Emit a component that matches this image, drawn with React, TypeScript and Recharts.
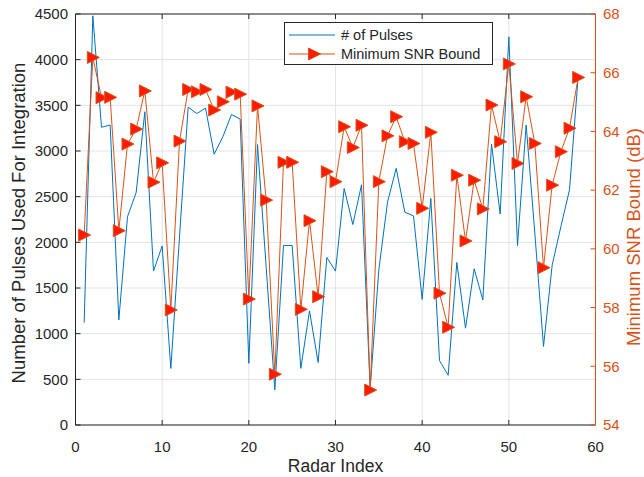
import { ComposedChart, Line, XAxis, YAxis, CartesianGrid } from 'recharts';

const radarIndex = [
  1, 2, 3, 4, 5, 6, 7, 8, 9, 10, 11, 12, 13, 14, 15, 16, 17, 18, 19, 20,
  21, 22, 23, 24, 25, 26, 27, 28, 29, 30, 31, 32, 33, 34, 35, 36, 37, 38, 39, 40,
  41, 42, 43, 44, 45, 46, 47, 48, 49, 50, 51, 52, 53, 54, 55, 56, 57, 58,
];

const numPulses = [
  1120, 4480, 3260, 3285, 1150, 2280, 2545, 3430, 1685, 1960,
  620, 2060, 3480, 3410, 3470, 2965, 3155, 3400, 3350, 675,
  3070, 1730, 385, 1965, 1965, 620, 1250, 685, 1835, 1685,
  2590, 2195, 2630, 400, 1700, 2440, 2810, 2330, 2290, 1375,
  2480, 705, 545, 1780, 1060, 1710, 1370, 3075, 2310, 4250,
  1965, 3285, 2100, 860, 1750, 2170, 2575, 3815,
];

const minSnr = [
  60.47, 66.52, 65.15, 65.16, 60.62, 63.57, 64.08, 65.38, 62.27, 62.93,
  57.92, 63.67, 65.43, 65.35, 65.43, 64.73, 65.01, 65.34, 65.27, 58.29,
  64.87, 61.66, 55.73, 62.95, 62.95, 57.94, 60.96, 58.37, 62.63, 62.29,
  64.16, 63.45, 64.21, 55.19, 62.29, 63.85, 64.5, 63.65, 63.59, 61.38,
  63.97, 58.49, 57.33, 62.51, 60.27, 62.34, 61.36, 64.9, 63.65, 66.3,
  62.91, 65.18, 63.59, 59.36, 62.17, 63.31, 64.11, 65.84,
];

const xTicks = [0, 10, 20, 30, 40, 50, 60];
const leftTicks = [0, 500, 1000, 1500, 2000, 2500, 3000, 3500, 4000, 4500];
const rightTicks = [54, 56, 58, 60, 62, 64, 66, 68];

const data = radarIndex.map((r, i) => ({ idx: r, pulses: numPulses[i], snr: minSnr[i] }));

const FONT = '"Liberation Sans", Arial, Helvetica, sans-serif';
const BLUE = '#0072BD';
const ORANGE = '#D95319';
const RED = '#FF1A00';
const DARK = '#262626';

// right-pointing triangle marker, like matlab's '>'
const Tri = (props: any) => {
  const { cx, cy } = props;
  if (cx == null || cy == null) return null;
  return (
    <polygon
      points={`${cx - 5.5},${cy - 6} ${cx - 5.5},${cy + 6} ${cx + 6.5},${cy}`}
      fill={RED}
      stroke={ORANGE}
      strokeWidth={1}
    />
  );
};

export default function App() {
  return (
    <div style={{ position: 'absolute', left: 0, top: 0, width: 644, height: 477, background: '#fff', fontFamily: FONT }}>
      <ComposedChart width={644} height={477} data={data} margin={{ top: 13, right: 0, bottom: 0, left: 0 }}>
        <CartesianGrid xAxisId="b" yAxisId="left" stroke="#e3e3e3" />
        <XAxis
          xAxisId="b"
          dataKey="idx"
          type="number"
          domain={[0, 60]}
          ticks={xTicks}
          height={52}
          stroke={DARK}
          tickSize={-5}
          tick={(p: any) => (
            <text x={p.x} y={451.5} textAnchor="middle" fontSize={15} fill={DARK} fontFamily={FONT}>
              {p.payload.value}
            </text>
          )}
          label={() => (
            <text x={335.5} y={472} textAnchor="middle" fontSize={17.5} fill={DARK} fontFamily={FONT}>
              Radar Index
            </text>
          )}
        />
        <XAxis
          xAxisId="t"
          orientation="top"
          dataKey="idx"
          type="number"
          domain={[0, 60]}
          ticks={xTicks}
          height={1}
          stroke={DARK}
          tickSize={-5}
          tick={() => <g />}
        />
        <YAxis
          yAxisId="left"
          domain={[0, 4500]}
          ticks={leftTicks}
          width={75.5}
          stroke={DARK}
          tickSize={-5}
          tick={(p: any) => (
            <text x={68} y={p.y + 5.3} textAnchor="end" fontSize={15} fill={DARK} fontFamily={FONT}>
              {p.payload.value}
            </text>
          )}
          label={() => (
            <text
              transform="translate(24.5,223) rotate(-90)"
              textAnchor="middle"
              fontSize={18.5}
              fill={DARK}
              fontFamily={FONT}
            >
              Number of Pulses Used For Integration
            </text>
          )}
        />
        <YAxis
          yAxisId="right"
          orientation="right"
          domain={[54, 68]}
          ticks={rightTicks}
          width={48.5}
          stroke={ORANGE}
          tickSize={-5}
          tick={(p: any) => (
            <text x={603} y={p.y + 5.3} textAnchor="start" fontSize={15} fill={ORANGE} fontFamily={FONT}>
              {p.payload.value}
            </text>
          )}
          label={() => (
            <text
              transform="translate(639.5,237) rotate(-90)"
              textAnchor="middle"
              fontSize={18.5}
              fill={ORANGE}
              fontFamily={FONT}
            >
              Minimum SNR Bound (dB)
            </text>
          )}
        />
        <Line
          xAxisId="b"
          yAxisId="left"
          dataKey="pulses"
          stroke={BLUE}
          strokeWidth={1}
          dot={false}
          isAnimationActive={false}
        />
        <Line
          xAxisId="b"
          yAxisId="right"
          dataKey="snr"
          stroke={ORANGE}
          strokeWidth={1}
          dot={<Tri />}
          activeDot={false}
          isAnimationActive={false}
        />
      </ComposedChart>
      <svg width={644} height={477} style={{ position: 'absolute', left: 0, top: 0, pointerEvents: 'none' }}>
        <rect x={284.5} y={22.5} width={208} height={42} fill="#fff" stroke={DARK} strokeWidth={1} />
        <line x1={289} y1={35} x2={335} y2={35} stroke={BLUE} strokeWidth={1.2} />
        <text x={341} y={40} fontSize={14.5} fill={DARK} fontFamily={FONT}>
          # of Pulses
        </text>
        <line x1={289} y1={54} x2={335} y2={54} stroke={ORANGE} strokeWidth={1.2} />
        <polygon points="308.5,48 308.5,60 320.5,54" fill={RED} stroke={ORANGE} strokeWidth={1} />
        <text x={341} y={59} fontSize={14.5} fill={DARK} fontFamily={FONT}>
          Minimum SNR Bound
        </text>
      </svg>
    </div>
  );
}
